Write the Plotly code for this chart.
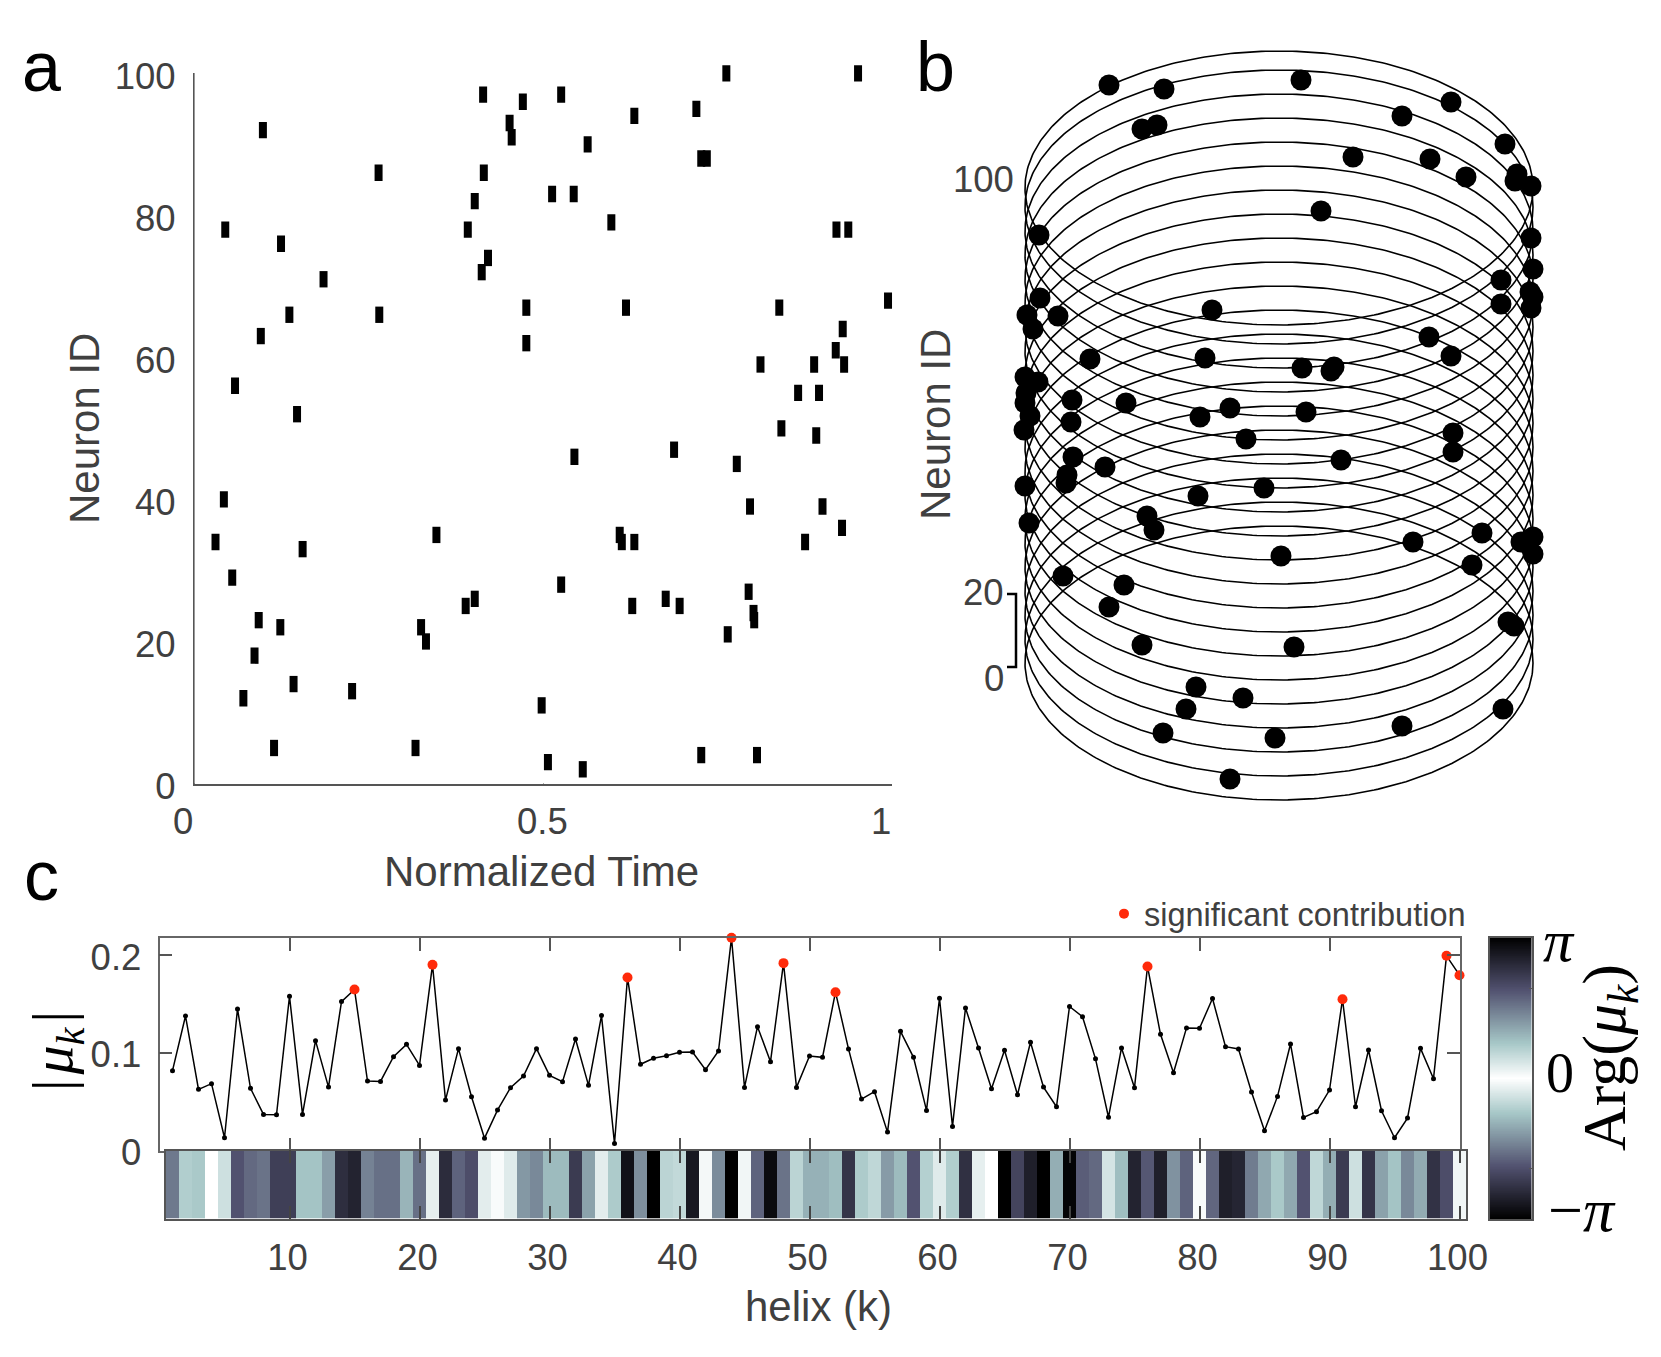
import numpy as np
import plotly.graph_objects as go

W, H = 1661, 1357
INK = "#404040"
AXC = "#555555"
SANS = "Liberation Sans"
SERIF = "Liberation Serif"

# ---------- panel a ----------
spike_time = [.763,.952,.414,.471,.526,.720,.631,.452,.098,.455,.564,.727,.735,.264,.415,.402,.513,.544,.598,.044,
              .392,.921,.938,.124,.421,.412,.185,.476,.619,.839,.995,.136,.265,.930,.095,.476,.920,.812,.889,.932,
              .058,.866,.896,.147,.842,.892,.545,.688,.778,.042,.797,.901,.929,.030,.155,.347,.610,.613,.631,.876,
              .054,.526,.676,.795,.402,.389,.628,.696,.802,.803,.092,.123,.325,.332,.765,.086,.142,.226,.070,.498,
              .114,.317,.507,.557,.727,.807]
spike_neuron = [100,100,97,96,97,95,94,93,92,91,90,88,88,86,86,82,83,83,79,78,
                78,78,78,76,74,72,71,67,67,67,68,66,66,64,63,62,61,59,59,59,
                56,55,55,52,50,49,46,47,45,40,39,39,36,34,33,35,35,34,34,34,
                29,28,26,27,26,25,25,25,24,23,23,22,22,20,21,18,14,13,12,11,
                5,5,3,2,4,4]
spike_half_height = 1.15
a_y_ticks = [0, 20, 40, 60, 80, 100]
a_x_ticks = [0, 0.5, 1]
a_x_labels = ["0", "0.5", "1"]
a_x_label_shift = [-12, -1, -11]

# ---------- panel b ----------
ring_height = [612, 593, 569, 545, 521, 497, 473, 449, 425, 401, 377, 353, 329, 305, 281, 257, 233, 209, 185, 161, 137]
ring_radius_x = 254
ring_radius_y = 137
dot_u = [-170,-115,22,172,123,-137,-122,226,74,151,187,238,236,252,42,-240,252,254,222,251,254,222,252,-239,-252,-221,-246,
         -67,150,172,-74,-189,23,55,52,-254,-241,-254,-253,-249,-255,-207,-208,-153,-79,-49,27,174,
         -33,174,62,-206,-174,-212,-213,-254,-15,-81,-132,-125,-250,203,242,254,254,134,2,193,-216,-155,-170,-137,15,229,235,
         -83,-36,-93,-116,-4,123,224,-49]
dot_h = [715,711,720,698,684,671,675,656,643,641,623,626,619,614,589,565,562,531,520,508,503,496,492,502,485,484,471,
         490,463,444,442,441,432,433,429,423,418,397,407,384,370,400,378,397,383,392,388,367,
         361,348,340,343,333,325,317,314,312,304,284,270,277,267,258,263,246,258,244,235,224,215,193,155,153,178,174,
         113,102,91,67,62,74,91,21]
bracket_u = [-272, -263, -263, -272]
bracket_h = [206, 206, 133, 133]

# ---------- panel c ----------
helix_k = list(range(1, 101))
mu_abs = [.0816,.1375,.0625,.0683,.013,.1447,.0635,.0369,.0365,.1577,
          .0369,.1123,.0648,.1522,.1645,.071,.0706,.0959,.1085,.087,
          .1898,.0515,.1041,.055,.0126,.0413,.0642,.0761,.1041,.0768,
          .0703,.114,.0666,.1379,.0072,.1768,.0881,.0942,.0969,.1003,
          .1007,.0826,.1017,.2174,.0645,.1266,.0908,.1915,.0645,.0966,
          .0952,.1618,.1038,.0526,.0601,.0188,.1218,.0952,.041,.1556,
          .0246,.1457,.1048,.0631,.1024,.057,.1106,.0648,.0447,.1472,
          .1367,.0937,.034,.1048,.0642,.1881,.1188,.0795,.1253,.1249,
          .1553,.1061,.1038,.0597,.0201,.0553,.1089,.0338,.0396,.0618,
          .1546,.0447,.1027,.0406,.013,.0331,.1044,.0734,.199,.1792]
significant_k = [15, 21, 36, 44, 48, 52, 76, 91, 99, 100]
arg_over_pi = [.50,.22,.24,.00,.14,.63,.55,.52,.71,.71,
               .26,.26,.38,.79,.84,.47,.53,.53,.31,.53,
               .07,.80,.57,.65,.08,.02,.09,.40,.45,.29,
               .29,.73,.37,.08,.23,.92,.43,1.0,.19,.17,
               .89,.03,.44,1.0,.04,.57,.95,.52,.19,.32,
               .32,.28,.76,.23,.18,.39,.29,.625,.21,.09,
               .22,.78,.07,.00,1.0,.69,.86,1.0,.33,.98,
               .59,.55,.12,.28,.84,.61,.86,.42,.57,.02,
               .56,.86,.83,.49,.35,.24,.35,.625,.18,.33,
               .73,.14,.76,.37,.26,.45,.34,.77,.65,.04]
c_y_ticks = [0, 0.1, 0.2]
c_y_labels = ["0", "0.1", "0.2"]
c_x_ticks = [10, 20, 30, 40, 50, 60, 70, 80, 90, 100]
scale_ticks = [-2, 2]

bone_sym = [[0, "#000000"], [.1875, "#525270"], [.375, "#a6c7c7"], [.5, "#ffffff"],
            [.625, "#a6c7c7"], [.8125, "#525270"], [1, "#000000"]]


def dom_x(a, b):
    return [a / W, b / W]


def dom_y(top, bottom):
    return [1 - bottom / H, 1 - top / H]


def note(text, px, py, size, color=INK, family=SANS, angle=0, xanchor="center"):
    return dict(text=text, x=px / W, y=1 - py / H, xref="paper", yref="paper", xanchor=xanchor, yanchor="middle",
                showarrow=False, textangle=angle, font=dict(family=family, size=size, color=color))


fig = go.Figure()

# panel a: one vertical tick per spike, on an invisible axis with the same scale but a little headroom,
# because line segments are always clipped to their axes
A_TOP, A_BOTTOM = 73.3, 783.5
a_unit = (A_BOTTOM - A_TOP) / 100
a_headroom = 2.0
tick_x, tick_y = [], []
for t, n in zip(spike_time, spike_neuron):
    tick_x += [t, t, None]
    tick_y += [n - spike_half_height, n + spike_half_height, None]
fig.add_trace(go.Scatter(x=tick_x, y=tick_y, mode="lines", xaxis="x6", yaxis="y6",
                         showlegend=False, hoverinfo="skip", line=dict(color="black", width=8)))
# the real axes of panel a
fig.add_trace(go.Scatter(x=[0, 1], y=[0, 100], mode="markers", xaxis="x", yaxis="y", showlegend=False,
                         hoverinfo="skip", marker=dict(size=1, opacity=0)))

# panel b
theta = np.linspace(0, 2 * np.pi, 361)
for h in ring_height:
    fig.add_trace(go.Scatter(x=ring_radius_x * np.cos(theta), y=h + ring_radius_y * np.sin(theta), mode="lines",
                             xaxis="x2", yaxis="y2", cliponaxis=False, showlegend=False, hoverinfo="skip",
                             line=dict(color="black", width=1.6)))
fig.add_trace(go.Scatter(x=dot_u, y=dot_h, mode="markers", xaxis="x2", yaxis="y2", cliponaxis=False,
                         showlegend=False, hoverinfo="skip", marker=dict(size=21, color="black", line=dict(width=0))))
fig.add_trace(go.Scatter(x=bracket_u, y=bracket_h, mode="lines", xaxis="x2", yaxis="y2", cliponaxis=False,
                         showlegend=False, hoverinfo="skip", line=dict(color="black", width=2.5)))

# panel c, magnitude
fig.add_trace(go.Scatter(x=helix_k, y=mu_abs, mode="lines+markers", xaxis="x3", yaxis="y3", cliponaxis=False,
                         showlegend=False, hoverinfo="skip", line=dict(color="black", width=1.5),
                         marker=dict(size=5, color="black")))
sig_y = [mu_abs[k - 1] for k in significant_k]
fig.add_trace(go.Scatter(x=significant_k, y=sig_y, mode="markers", xaxis="x3", yaxis="y3", cliponaxis=False,
                         name="significant contribution", showlegend=True, hoverinfo="skip",
                         marker=dict(size=10, color="#ff2a0a")))

# panel c, phase strip
fig.add_trace(go.Heatmap(x=helix_k, y=[0], z=[[v * np.pi for v in arg_over_pi]], xaxis="x4", yaxis="y4",
                         zmin=-np.pi, zmax=np.pi, colorscale=bone_sym, hoverinfo="skip", showscale=False))

# colour scale, drawn in its own axes so it does not push the margins
scale_z = np.linspace(-np.pi, np.pi, 401)
fig.add_trace(go.Heatmap(x=[0], y=scale_z, z=scale_z.reshape(-1, 1), xaxis="x5", yaxis="y5",
                         zmin=-np.pi, zmax=np.pi, colorscale=bone_sym, hoverinfo="skip", showscale=False))

tick_font = dict(family=SANS, size=36.5, color=INK)
fig.update_layout(
    width=W, height=H, autosize=False, margin=dict(l=0, r=0, t=0, b=0, autoexpand=False),
    paper_bgcolor="white", plot_bgcolor="white",
    legend=dict(x=1104 / W, y=1 - 914 / H, xanchor="left", yanchor="middle", bgcolor="rgba(0,0,0,0)",
                font=dict(family=SANS, size=32.5, color=INK), borderwidth=0),
    xaxis=dict(domain=dom_x(194.6, 891.5), range=[0, 1], tickvals=a_x_ticks, showticklabels=False, ticks="inside",
               ticklen=7, tickcolor=AXC, showline=True, linecolor=AXC, linewidth=1.5, showgrid=False, zeroline=False,
               anchor="y"),
    yaxis=dict(domain=dom_y(A_TOP, A_BOTTOM), range=[0, 100], tickvals=a_y_ticks, ticks="inside", ticklen=7, tickcolor=AXC,
               tickfont=tick_font, showline=True, linecolor=AXC, linewidth=1.5, showgrid=False, zeroline=False,
               ticklabelstandoff=10, ticklabelshift=3, anchor="x"),
    xaxis6=dict(domain=dom_x(194.6, 891.5 + 1.01 * 0 + 6.97), range=[0, 1.01], visible=False, anchor="y6"),
    yaxis6=dict(domain=dom_y(A_TOP - a_headroom * a_unit, A_BOTTOM), range=[0, 100 + a_headroom], visible=False,
                anchor="x6"),
    xaxis2=dict(domain=dom_x(1000, 1560), range=[-279, 281], visible=False, anchor="y2"),
    yaxis2=dict(domain=dom_y(40, 810), range=[-10, 760], visible=False, anchor="x2"),
    xaxis3=dict(domain=dom_x(159.5, 1459.5), range=[0, 100], tickvals=c_x_ticks, showticklabels=False, ticks="inside",
                ticklen=13, tickcolor=AXC, tickwidth=1.5, showline=True, linecolor="#666666", linewidth=1.7, mirror="ticks",
                showgrid=False, zeroline=False, anchor="y3"),
    yaxis3=dict(domain=dom_y(937.7, 1150.5), range=[0, 0.2175], tickvals=c_y_ticks, ticktext=c_y_labels, ticks="inside",
                ticklen=13, tickcolor=AXC, tickwidth=1.5, tickfont=tick_font, showline=True, linecolor="#666666",
                linewidth=1.7, mirror="ticks", showgrid=False, zeroline=False, ticklabelstandoff=9, ticklabelshift=2,
                anchor="x3"),
    xaxis4=dict(domain=dom_x(166, 1466), range=[0.5, 100.5], tickvals=c_x_ticks, ticks="inside", ticklen=13,
                tickcolor="#444444", tickwidth=1.5, tickfont=tick_font, showline=True, linecolor="#555555", linewidth=1.7,
                mirror="ticks", showgrid=False, zeroline=False, ticklabelstandoff=6, ticklabelshift=-2, anchor="y4"),
    yaxis4=dict(domain=dom_y(1150.5, 1218.5), range=[-0.5, 0.5], showticklabels=False, ticks="", showline=True,
                linecolor="#555555", linewidth=1.7, mirror=True, showgrid=False, zeroline=False, anchor="x4"),
    xaxis5=dict(domain=dom_x(1490, 1531.5), range=[-0.5, 0.5], showticklabels=False, ticks="", showline=True,
                linecolor="#555555", linewidth=1.7, mirror=True, showgrid=False, zeroline=False, anchor="y5"),
    yaxis5=dict(domain=dom_y(937.7, 1219.3), range=[-np.pi, np.pi], tickvals=scale_ticks, showticklabels=False,
                ticks="inside", ticklen=3, side="right", tickcolor=AXC, showline=True, linecolor="#555555", linewidth=1.7,
                mirror=True, showgrid=False, zeroline=False, anchor="x5"),
)

ann = []
for v, t, s in zip(a_x_ticks, a_x_labels, a_x_label_shift):
    ann.append(dict(text=t, x=v, y=1 - 821 / H, xref="x", yref="paper", yanchor="middle", xanchor="center", xshift=s,
                    showarrow=False, font=tick_font))
ann += [
    note("Normalized Time", 541, 871, 42),
    note("Neuron ID", 84, 429, 42, angle=-90),
    note("Neuron ID", 935, 425, 42, angle=-90),
    note("a", 41, 67, 70, color="black"),
    note("b", 936, 67, 70, color="black"),
    note("c", 41, 876, 70, color="black"),
    note("100", 1016, 179, 36.5, xanchor="right"),
    note("20", 1006, 592, 36.5, xanchor="right"),
    note("0", 1006, 678, 36.5, xanchor="right"),
    note("helix (k)", 818, 1306, 42),
    note("|\u200a<i>μ</i><sub><i>k</i></sub>\u200a|", 56, 1051, 58, color="black", family=SERIF, angle=-90),
    note("Arg(<i>μ</i><sub><i>k</i></sub>)", 1608, 1058, 62, color="black", family=SERIF, angle=-90),
    note("<i>π</i>", 1559, 941, 60, color="black", family=SERIF),
    note("0", 1560, 1073, 56, color="black", family=SERIF),
    note("−<i>π</i>", 1582, 1210, 62, color="black", family=SERIF),
]
fig.update_layout(annotations=ann)

fig.write_html("out.html", config=dict(displayModeBar=False),
               post_script="document.body.style.margin='0';document.body.style.overflow='hidden';")
